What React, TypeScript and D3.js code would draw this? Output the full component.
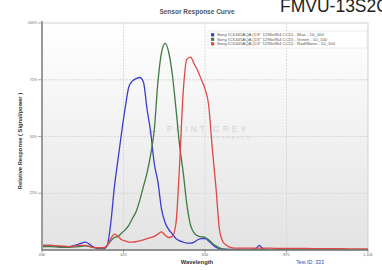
import React from "react";
import * as d3 from "d3";

const wavelengths = [200, 225, 250, 275, 300, 320, 340, 360, 370, 380, 390, 400, 410, 420, 430, 440, 450, 460, 470, 480, 490, 500, 510, 520, 530, 540, 550, 560, 570, 580, 590, 600, 610, 620, 630, 640, 650, 660, 670, 680, 690, 700, 710, 720, 740, 760, 780, 790, 800, 810, 830, 860, 900, 950, 1000, 1050, 1100];

const blueValues = [0.02, 0.02, 0.015, 0.015, 0.025, 0.035, 0.015, 0.005, 0.005, 0.02, 0.12, 0.28, 0.40, 0.52, 0.63, 0.72, 0.745, 0.755, 0.76, 0.74, 0.62, 0.52, 0.38, 0.30, 0.18, 0.12, 0.09, 0.07, 0.05, 0.04, 0.035, 0.03, 0.03, 0.035, 0.045, 0.05, 0.05, 0.04, 0.025, 0.012, 0.006, 0.003, 0.003, 0.003, 0.003, 0.003, 0.003, 0.005, 0.02, 0.005, 0.002, 0.002, 0.002, 0.002, 0.002, 0.002, 0.002];

const greenValues = [0.015, 0.015, 0.012, 0.012, 0.015, 0.018, 0.012, 0.008, 0.008, 0.02, 0.04, 0.055, 0.06, 0.075, 0.09, 0.11, 0.14, 0.17, 0.22, 0.28, 0.34, 0.42, 0.53, 0.74, 0.87, 0.91, 0.87, 0.77, 0.62, 0.46, 0.34, 0.20, 0.11, 0.075, 0.062, 0.058, 0.056, 0.045, 0.03, 0.018, 0.01, 0.005, 0.003, 0.002, 0.002, 0.002, 0.002, 0.002, 0.002, 0.002, 0.002, 0.002, 0.002, 0.002, 0.002, 0.002, 0.002];

const redValues = [0.02, 0.02, 0.018, 0.015, 0.02, 0.02, 0.012, 0.01, 0.01, 0.02, 0.05, 0.07, 0.06, 0.045, 0.04, 0.035, 0.035, 0.037, 0.04, 0.045, 0.05, 0.055, 0.06, 0.07, 0.08, 0.065, 0.055, 0.06, 0.12, 0.38, 0.70, 0.84, 0.85, 0.82, 0.79, 0.75, 0.71, 0.64, 0.45, 0.28, 0.09, 0.035, 0.02, 0.012, 0.008, 0.008, 0.008, 0.008, 0.008, 0.008, 0.008, 0.007, 0.007, 0.006, 0.006, 0.005, 0.005];

const seriesNames = [
  "Sony ICX445AQA (1/3\" 1296x964 CCD) - Blue - 10_100",
  "Sony ICX445AQA (1/3\" 1296x964 CCD) - Green - 10_100",
  "Sony ICX445AQA (1/3\" 1296x964 CCD) - Red/Mono - 10_100",
];
const seriesColors = ["#3b3bd0", "#3f7a45", "#e04848"];

const xTicks = [200, 425, 650, 875, 1100];
const yTicks = [0.25, 0.5, 0.75, 1];
const yTickLabels = ["25%", "50%", "75%", "100%"];

export default function App() {
  const W = 382, H = 270;
  const left = 42, right = 368, top = 23, bottom = 250;
  const x = d3.scaleLinear().domain([200, 1100]).range([left, right]);
  const y = d3.scaleLinear().domain([0, 1]).range([bottom, top]);
  const line = d3
    .line<number>()
    .x((_, i) => x(wavelengths[i]))
    .y((d) => y(d))
    .curve(d3.curveMonotoneX);
  const series = [blueValues, greenValues, redValues];
  const fmt = d3.format(",");

  return (
    <svg width={W} height={H} style={{ position: "absolute", left: 0, top: 0, fontFamily: "Liberation Sans, Arial, sans-serif" }}>
      <defs>
        <linearGradient id="bg" x1="0" y1="0" x2="0" y2="1">
          <stop offset="0" stopColor="#ffffff" />
          <stop offset="1" stopColor="#e3e3e3" />
        </linearGradient>
        <clipPath id="clip">
          <rect x={left} y={top} width={right - left} height={bottom - top} />
        </clipPath>
      </defs>
      <rect width={W} height={H} fill="#fff" />
      <text x={280} y={11.5} fontSize={17.5} fill="#222">FMVU-13S2C</text>
      <text x={197} y={14} fontSize={6.5} fontWeight="bold" textAnchor="middle" fill="#555">Sensor Response Curve</text>

      <rect x={left} y={top} width={right - left} height={bottom - top} fill="url(#bg)" stroke="#cfcfcf" strokeWidth={1} />
      {yTicks.slice(0, 3).map((t) => (
        <line key={"hy" + t} x1={left} x2={right} y1={y(t)} y2={y(t)} stroke="#d4d4d4" strokeWidth={0.8} strokeDasharray="2,1" />
      ))}
      {xTicks.slice(1, 4).map((t) => (
        <line key={"vx" + t} x1={x(t)} x2={x(t)} y1={top} y2={bottom} stroke="#d4d4d4" strokeWidth={0.8} strokeDasharray="2,1" />
      ))}

      <g opacity={0.55}>
        <text x={148} y={136} fontSize={14} fill="#bbb" fontWeight="bold">⌐</text>
        <text x={208} y={132} fontSize={8.5} fill="#bdbdbd" textAnchor="middle" letterSpacing={3}>POINT GREY</text>
        <text x={232} y={139} fontSize={3.5} fill="#bdbdbd" textAnchor="middle" letterSpacing={2.5}>RESEARCH</text>
      </g>

      <g clipPath="url(#clip)">
        {series.map((s, i) => (
          <path key={i} d={line(s) || ""} fill="none" stroke={seriesColors[i]} strokeWidth={1.3} strokeLinejoin="round" />
        ))}
      </g>

      <line x1={left} x2={left} y1={top - 2} y2={bottom} stroke="#9a9a9a" strokeWidth={2} />
      <line x1={left} x2={right} y1={bottom} y2={bottom} stroke="#777" strokeWidth={1.5} />

      {yTicks.map((t, i) => (
        <g key={"yt" + t}>
          <line x1={left - 4} x2={left} y1={y(t)} y2={y(t)} stroke="#999" strokeWidth={0.8} />
          <text x={left - 5} y={y(t) + 1.2} fontSize={3.6} textAnchor="end" fill="#666">{yTickLabels[i]}</text>
        </g>
      ))}
      {xTicks.map((t) => (
        <g key={"xt" + t}>
          <line x1={x(t)} x2={x(t)} y1={bottom} y2={bottom + 2.5} stroke="#777" strokeWidth={0.8} />
          <text x={x(t)} y={bottom + 6} fontSize={3.8} textAnchor="middle" fill="#666">{fmt(t)}</text>
        </g>
      ))}

      <text transform={`translate(22,141) rotate(-90)`} fontSize={5.8} fontWeight="bold" textAnchor="middle" fill="#333">Relative Response ( Signal/power )</text>
      <text x={197} y={264} fontSize={5.8} fontWeight="bold" textAnchor="middle" fill="#333">Wavelength</text>
      <text x={310} y={264} fontSize={5.2} textAnchor="middle" fill="#3346c0">Test ID: 333</text>

      <g>
        <rect x={208} y={31} width={159} height={17} fill="#fff" fillOpacity={0.85} stroke="#e0e0e0" strokeWidth={0.6} />
        {seriesNames.map((n, i) => (
          <g key={"lg" + i}>
            <rect x={211} y={33.2 + i * 4.5} width={3.2} height={3.2} fill={seriesColors[i]} />
            <text x={217} y={36 + i * 4.5} fontSize={4.3} fill="#555">{n}</text>
          </g>
        ))}
      </g>
    </svg>
  );
}
